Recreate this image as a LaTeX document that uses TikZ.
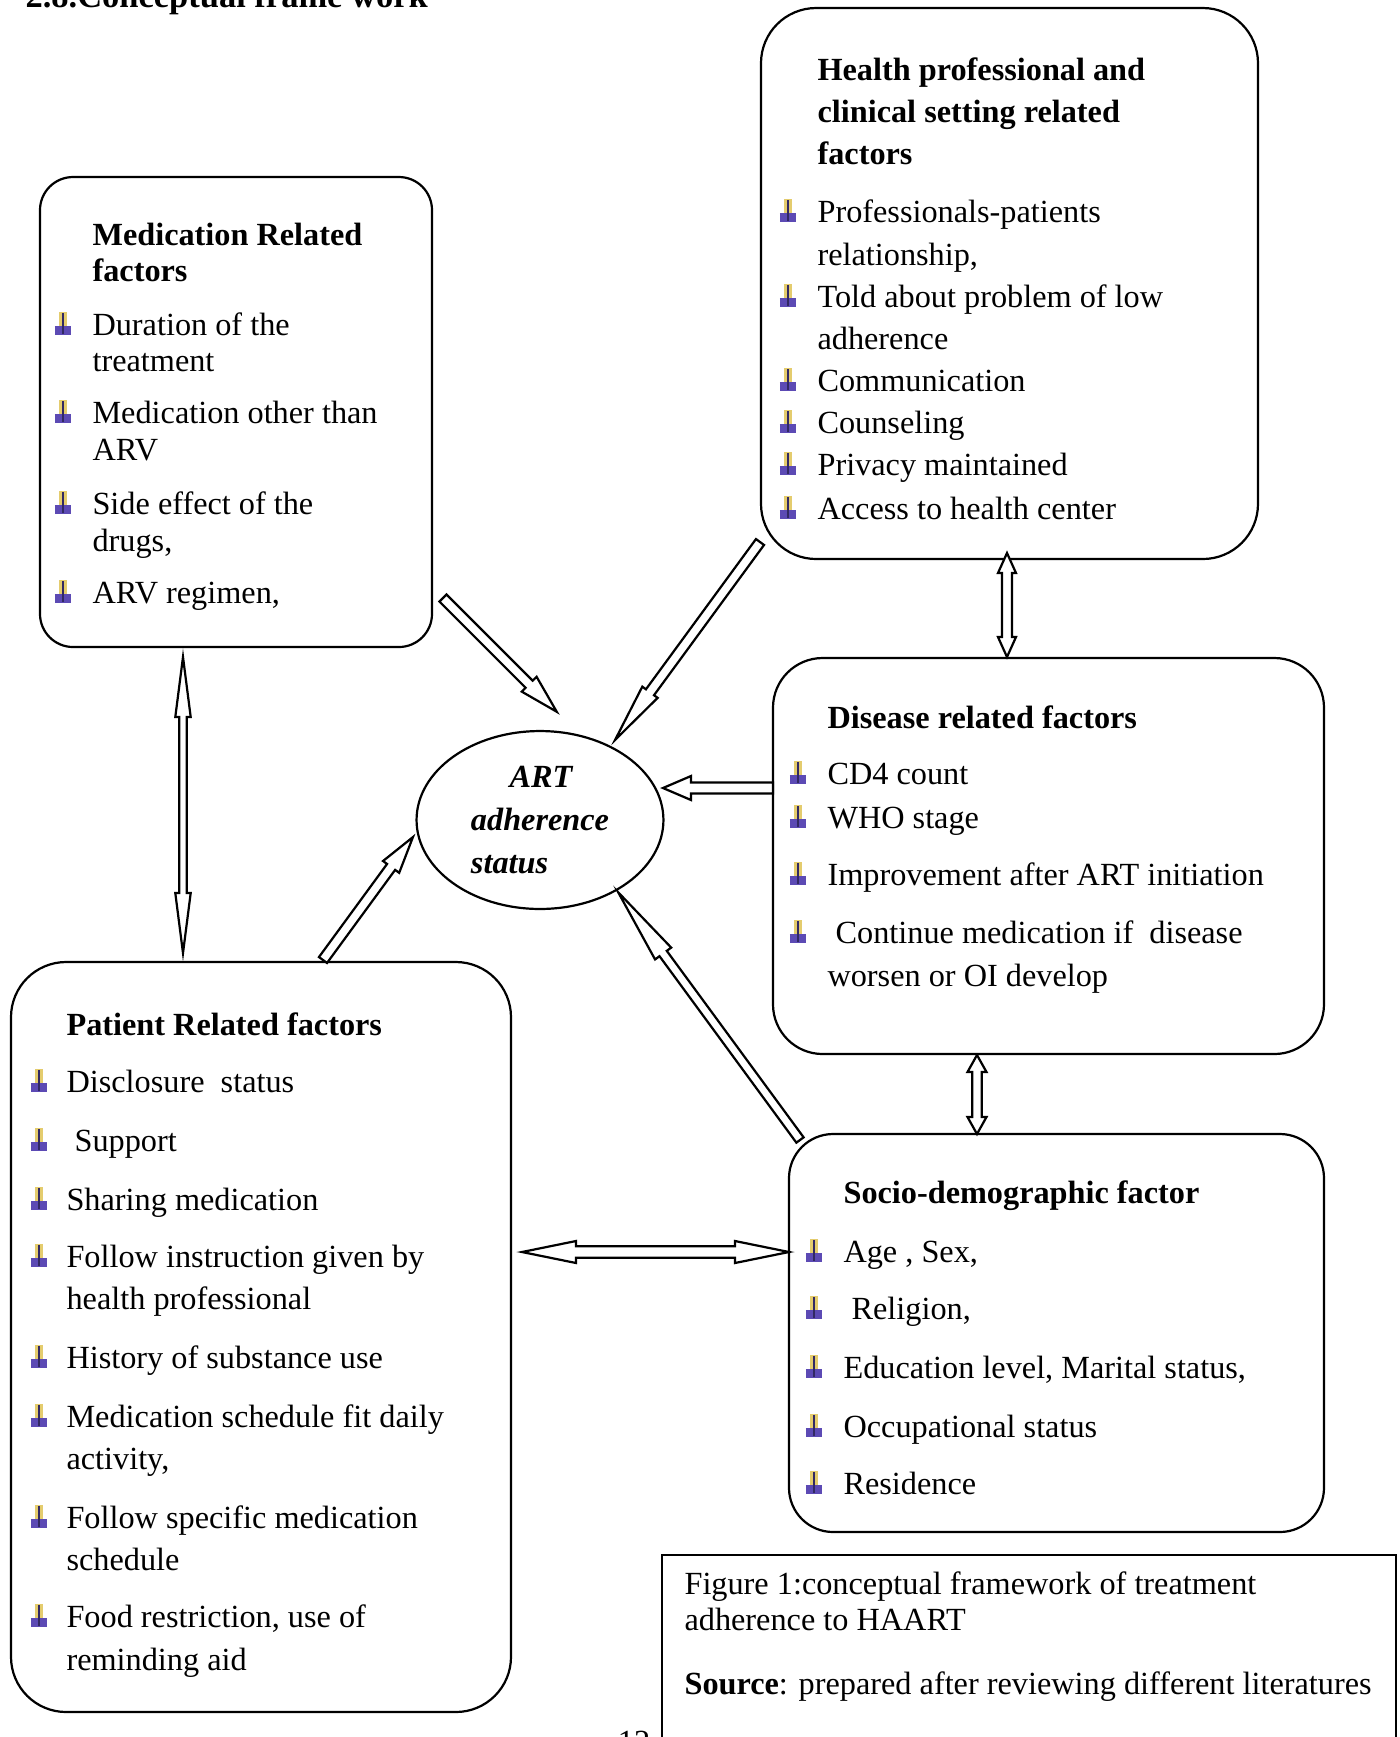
\documentclass[tikz,border=0pt]{standalone}
\usepackage{fontspec}
\setmainfont{Liberation Serif}
\usepackage{xcolor}
\usepackage{tikz}
\usetikzlibrary{calc,fit,shapes.geometric}

\definecolor{bulyel}{RGB}{228,204,110}
\definecolor{bulblu}{RGB}{92,74,180}

% small arrow-like bullet used in every list
\newcommand{\bulicon}{%
  \rlap{\textcolor{bulblu}{\rule{6pt}{3.4pt}}}%
  \rlap{\hspace{1.4pt}\textcolor{bulyel}{\rule[3.4pt]{3pt}{4.9pt}}}%
  \rlap{\hspace{2.6pt}\textcolor{bulblu!55!black}{\rule[0.3pt]{0.6pt}{7.8pt}}}%
  \hspace{6pt}}

% hollow block arrows: #1 from, #2 to, #3 shaft half width,
% #4 head half width, #5 head length (all in px of the layout)
\newcommand{\arrgeom}[2]{%
  \path let \p1=($(#2)-(#1)$) in
    \pgfextra{\pgfmathsetmacro{\barang}{atan2(\y1,\x1)}%
      \pgfmathsetmacro{\barlen}{veclen(\x1,\y1)/0.3625}%
      \xdef\barang{\barang}\xdef\barlen{\barlen}};}
\newcommand{\blockarrow}[5]{%
  \arrgeom{#1}{#2}
  \begin{scope}[shift={(#1)},rotate=\barang,x=0.3625pt,y=0.3625pt]
    \path[blockarr] (0,#3)--({\barlen-#5},#3)--({\barlen-#5},#4)--(\barlen,0)
      --({\barlen-#5},-#4)--({\barlen-#5},-#3)--(0,-#3)--cycle;
  \end{scope}}
\newcommand{\dblockarrow}[5]{%
  \arrgeom{#1}{#2}
  \begin{scope}[shift={(#1)},rotate=\barang,x=0.3625pt,y=0.3625pt]
    \path[blockarr] (0,0)--(#5,#4)--(#5,#3)--({\barlen-#5},#3)--({\barlen-#5},#4)
      --(\barlen,0)--({\barlen-#5},-#4)--({\barlen-#5},-#3)--(#5,-#3)--(#5,-#4)--cycle;
  \end{scope}}

\begin{document}
\begin{tikzpicture}[x=0.3625pt,y=-0.3625pt,
 font=\fontsize{11.7}{14}\selectfont,
 fbox/.style={draw,line width=0.8pt,inner sep=0pt},
 ln/.style={anchor=base west,inner sep=0pt},
 hd/.style={ln,font=\fontsize{11.7}{14}\selectfont\bfseries},
 bul/.style={anchor=base west,inner sep=0pt},
 blockarr/.style={draw,fill=white,line width=0.8pt,line join=miter}]
\useasboundingbox (0,0) rectangle (1400,1737);
\clip (0,0) rectangle (1400,1737);

\node[ln,font=\fontsize{12.5}{14}\selectfont\bfseries] (title) at (25,7)
  {2.8.Conceptual frame work};

% the five groups of factors
\node[fbox,rounded corners=12pt,fit={(40,177) (432,647)}] (med) {};
\node[fbox,rounded corners=20pt,fit={(761,8) (1258,559)}] (hlth) {};
\node[fbox,rounded corners=18pt,fit={(773,658) (1324,1054)}] (dis) {};
\node[fbox,rounded corners=16pt,fit={(789,1134) (1324,1532)}] (socio) {};
\node[fbox,rounded corners=20pt,fit={(11,962) (511,1712)}] (pat) {};
\node[fbox,fit={(662,1555) (1396,1760)}] (cap) {};

\node[draw,ellipse,line width=0.8pt,minimum width=89.5pt,minimum height=64.5pt,
 inner sep=0pt,align=left,font=\fontsize{11.7}{15.6}\selectfont\bfseries\itshape]
 (art) at (540,820) {\hspace*{14pt}ART\\adherence\\status};

% Medication related factors
\node[hd] (med-h1) at (92,245) {Medication Related};
\node[hd] (med-h2) at (92,281) {factors};
\foreach \yy [count=\i] in {335,423,514,603}
  \node[bul] (med-b\i) at (53,\yy) {\bulicon};
\foreach \yy/\txt [count=\i] in {335/Duration of the,371/treatment,
  423/Medication other than,460/ARV,514/Side effect of the,551/{drugs,},
  603/{ARV regimen,}}
  \node[ln] (med-l\i) at (92,\yy) {\txt};

% Health professional and clinical setting
\foreach \yy/\txt [count=\i] in {80/Health professional and,
  122/clinical setting related,164/factors}
  \node[hd] (hlth-h\i) at (817,\yy) {\txt};
\foreach \yy [count=\i] in {222,307,391,433,475,519}
  \node[bul] (hlth-b\i) at (778,\yy) {\bulicon};
\foreach \yy/\txt [count=\i] in {222/Professionals-patients,265/{relationship,},
  307/Told about problem of low,349/adherence,391/Communication,
  433/Counseling,475/Privacy maintained,519/Access to health center}
  \node[ln] (hlth-l\i) at (817,\yy) {\txt};

% Disease related factors
\node[hd] (dis-h1) at (827,728) {Disease related factors};
\foreach \yy [count=\i] in {784,828,885,943}
  \node[bul] (dis-b\i) at (788,\yy) {\bulicon};
\foreach \yy/\txt [count=\i] in {784/CD4 count,828/WHO stage,
  885/Improvement after ART initiation,
  943/{\ Continue medication if\ \ disease},986/worsen or OI develop}
  \node[ln] (dis-l\i) at (827,\yy) {\txt};

% Socio-demographic factor
\node[hd] (socio-h1) at (843,1203) {Socio-demographic factor};
\foreach \yy [count=\i] in {1262,1319,1378,1437,1494}
  \node[bul] (socio-b\i) at (804,\yy) {\bulicon};
\foreach \yy/\txt [count=\i] in {1262/{Age , Sex,},1319/{\ Religion,},
  1378/{Education level, Marital status,},1437/Occupational status,
  1494/Residence}
  \node[ln] (socio-l\i) at (843,\yy) {\txt};

% Patient related factors
\node[hd] (pat-h1) at (66,1035) {Patient Related factors};
\foreach \yy [count=\i] in {1092,1151,1210,1267,1368,1427,1528,1627}
  \node[bul] (pat-b\i) at (29,\yy) {\bulicon};
\foreach \yy/\txt [count=\i] in {1092/{Disclosure\ \ status},1151/{\ Support},
  1210/Sharing medication,1267/Follow instruction given by,
  1309/health professional,1368/History of substance use,
  1427/Medication schedule fit daily,1469/{activity,},
  1528/Follow specific medication,1570/schedule,
  1627/{Food restriction, use of},1670/reminding aid}
  \node[ln] (pat-l\i) at (66,\yy) {\txt};

% caption
\node[ln] (cap-l1) at (684,1594) {Figure 1:conceptual framework of treatment};
\node[ln] (cap-l2) at (684,1630) {adherence to HAART};
\node[ln] (cap-l3) at (684,1694)
  {\textbf{Source}: prepared after reviewing different literatures};
\node[anchor=base,inner sep=0pt] (pageno) at (634,1752) {12};

% arrow ends
\coordinate (medout) at (443,598);   \coordinate (artmed) at (557,712);
\coordinate (hlthout) at (760,542);  \coordinate (arthlth) at (615,740);
\coordinate (disout) at (773,788);   \coordinate (artdis) at (663,788);
\coordinate (socout) at (800,1140);  \coordinate (artsoc) at (618,892);
\coordinate (patout) at (323,960);   \coordinate (artpat) at (413,837);
\coordinate (medbot) at (183,657);   \coordinate (pattop) at (183,953);
\coordinate (hlthbot) at (1007,553); \coordinate (distop) at (1007,657);
\coordinate (disbot) at (977,1055);  \coordinate (soctop) at (977,1134);
\coordinate (patright) at (522,1252); \coordinate (socleft) at (789,1252);

\blockarrow{medout}{artmed}{5}{10.5}{39}
\blockarrow{hlthout}{arthlth}{5}{9.5}{59}
\blockarrow{disout}{artdis}{5.5}{12}{28}
\blockarrow{socout}{artsoc}{4.5}{10}{76}
\blockarrow{patout}{artpat}{5}{10}{37}
\dblockarrow{medbot}{pattop}{3.7}{7.7}{60}
\dblockarrow{hlthbot}{distop}{5}{9}{20}
\dblockarrow{disbot}{soctop}{4.7}{9.5}{17}
\dblockarrow{patright}{socleft}{5.7}{11}{54}
\end{tikzpicture}
\end{document}
